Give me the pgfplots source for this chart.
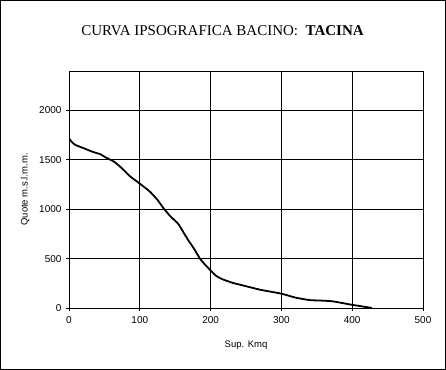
\documentclass[border=0pt]{standalone}
\usepackage{pgfplots}
\pgfplotsset{compat=1.18}
\usepackage{fontspec}
\setmainfont{Liberation Serif}
\newfontfamily\arial{Liberation Sans}
\begin{document}
\begin{tikzpicture}
\begin{axis}[
  scale only axis,
  width=354pt, height=237pt,
  xmin=0, xmax=500, ymin=0, ymax=2400,
  xtick={0,100,...,500},
  ytick={0,500,...,2000},
  grid=major,
  major grid style={black, line width=0.8pt},
  axis line style={black, line width=0.8pt},
  tick style={black, line width=0.8pt},
  tick align=outside,
  major tick length=3pt,
  xtick pos=bottom, ytick pos=left,
  /pgf/number format/assume math mode=true,
  /pgf/number format/1000 sep={},
  tick label style={font=\arial\fontsize{10}{12}\selectfont},
  xticklabel style={yshift=-2pt},
  yticklabel style={xshift=-1pt},
  xlabel={Sup. Kmq},
  ylabel={Quote m.s.l.m.m.},
  label style={font=\arial\fontsize{9.5}{11}\selectfont},
  xlabel style={at={(axis description cs:0.5,-0.156)}, anchor=center},
  ylabel style={at={(axis description cs:-0.124,0.5)}, anchor=center},
]
\addplot[black, line width=1.8pt, smooth, tension=0.3] coordinates {
(0,1720) (3,1690) (8,1655) (20,1620) (34,1580) (44,1558) (53,1520)
(63,1485) (72,1433) (86,1335) (99,1265) (114,1180) (125,1095)
(133,1015) (143,930) (154,855) (162,762) (168,691) (176,607)
(185,500) (192,440) (199,388) (207,330) (216,293) (232,253)
(251,219) (270,185) (300,145) (320,105) (340,80) (360,74)
(373,67) (390,45) (399,33) (415,15) (428,0)
};
\end{axis}
\draw[black, line width=1pt] ([shift={(-68.5pt,-61pt)}]current axis.south west) rectangle ([shift={(-68.5pt+445pt,307.5pt)}]current axis.south west);
\node[font=\fontsize{15}{18}\selectfont, anchor=center] at ([shift={(153.5pt,277pt)}]current axis.south west) {CURVA IPSOGRAFICA BACINO:\ \ \textbf{TACINA}};
\end{tikzpicture}
\end{document}
